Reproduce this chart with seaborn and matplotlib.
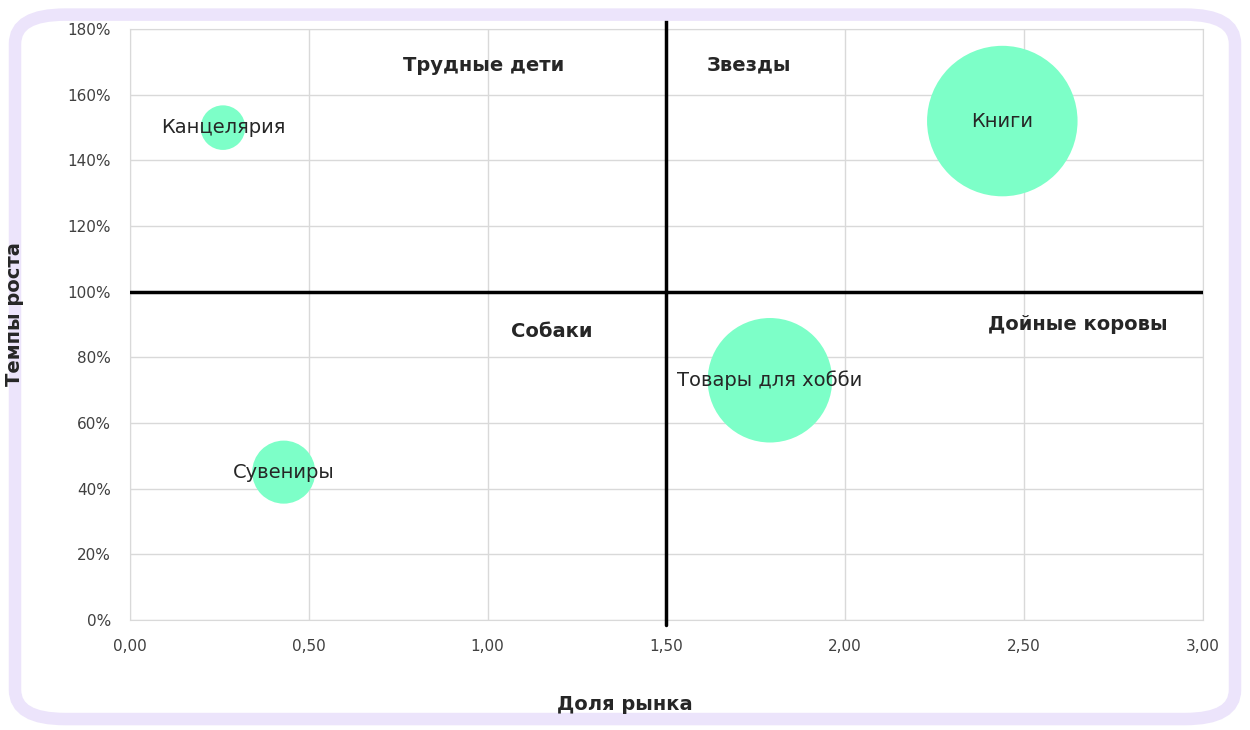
import matplotlib
matplotlib.use("Agg")
import matplotlib.pyplot as plt
import seaborn as sns
import pandas as pd
from matplotlib.patches import FancyBboxPatch

names = ["Канцелярия", "Сувениры", "Товары для хобби", "Книги"]
share = [0.26, 0.43, 1.79, 2.44]
growth = [150, 45, 73, 152]
volume = [5, 10, 39, 57]

quad_names = ["Трудные дети", "Звезды", "Собаки", "Дойные коровы"]
quad_x = [0.99, 1.73, 1.18, 2.65]
quad_y = [169, 169, 88, 90]

sns.set_style("white")
plt.rcParams['font.family'] = ['DejaVu Sans']

fig = plt.figure(figsize=(12.5, 7.3), dpi=100)
fig.patch.set_facecolor("white")
fig.patches.append(FancyBboxPatch((0.012, 0.015), 0.976, 0.965, boxstyle="round,pad=0,rounding_size=0.04",
                                  transform=fig.transFigure, fill=False, edgecolor="#ece4fb", linewidth=9))
ax = fig.add_axes([0.104, 0.151, 0.858, 0.809])
df = pd.DataFrame({"x": share, "y": growth, "v": volume, "n": names})
sns.scatterplot(data=df, x="x", y="y", s=[v * 206 for v in volume], color="#7dffc8",
                edgecolor="none", alpha=1, ax=ax, legend=False, zorder=3)
for n, x, y in zip(names, share, growth):
    ax.text(x, y, n, ha="center", va="center", fontsize=14, zorder=5)
for n, x, y in zip(quad_names, quad_x, quad_y):
    ax.text(x, y, n, ha="center", va="center", fontsize=14, fontweight="bold", zorder=5)
ax.plot([1.5, 1.5], [-1.5, 183.5], color="black", lw=2.5, clip_on=False, zorder=4)
ax.plot([0, 3], [100, 100], color="black", lw=2.5, zorder=4)
ax.set_xlim(0, 3)
ax.set_ylim(0, 180)
ax.set_xticks([0, 0.5, 1, 1.5, 2, 2.5, 3])
ax.set_xticklabels(["0,00", "0,50", "1,00", "1,50", "2,00", "2,50", "3,00"])
ax.set_yticks(range(0, 181, 20))
ax.set_yticklabels([f"{v}%" for v in range(0, 181, 20)])
ax.tick_params(labelsize=11, colors="#404040", pad=10)
ax.grid(True, color="#d9d9d9", lw=1)
for s in ax.spines.values():
    s.set_color("#d9d9d9")
ax.set_xlabel("")
ax.set_ylabel("")
fig.text(0.5, 0.035, "Доля рынка", ha="center", va="center", fontsize=14, fontweight="bold")
fig.text(0.012, 0.57, "Темпы роста", ha="center", va="center", rotation=90, fontsize=14, fontweight="bold")
fig.savefig("out.png", dpi=100)
